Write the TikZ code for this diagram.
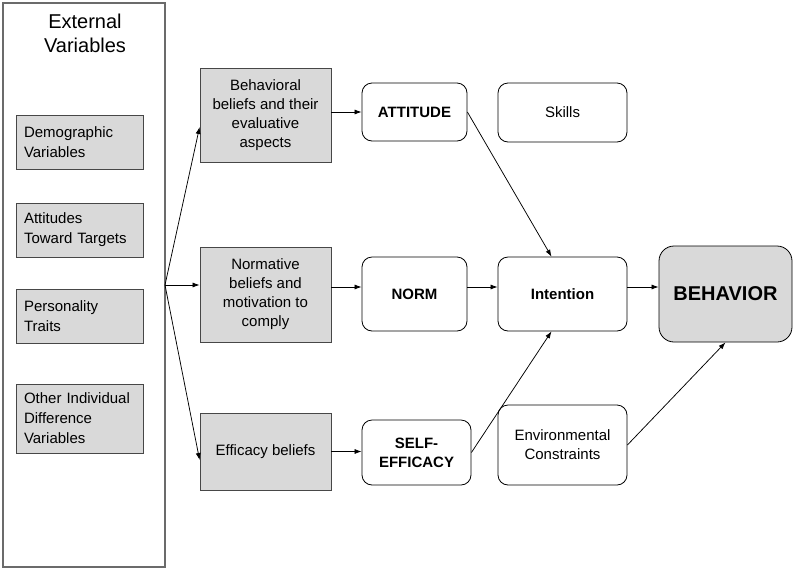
\documentclass[tikz,border=0pt]{standalone}
\usepackage{fontspec}
\setmainfont{Liberation Sans}
\usetikzlibrary{arrows.meta,calc}
\begin{document}
\begin{tikzpicture}[x=1pt,y=-1pt,
  base/.style={inner sep=0pt, font=\fontsize{15}{19}\selectfont, align=center},
  gbox/.style={base, draw=black!72, fill=black!15, line width=0.8pt},
  lbox/.style={gbox, align=left, inner xsep=8pt, text width=111pt, minimum width=127pt, font=\fontsize{15}{20}\selectfont},
  mbox/.style={gbox, minimum width=131pt},
  rbox/.style={base, draw=black, rounded corners=10pt, line width=0.8pt},
  arr/.style={-{Latex[length=7pt,width=5pt]}, line width=0.75pt, black}
]
\fill[white] (0,0) rectangle (795,571);
\useasboundingbox (0,0) rectangle (795,571);

% external variables panel
\node[draw=black!58, line width=1.5pt, minimum width=162pt, minimum height=564pt, inner sep=0pt] (ext) at (84,285) {};
\node[base, font=\fontsize{20}{24}\selectfont] (title) at (85,33) {External\\Variables};

\node[lbox, minimum height=54pt] (demo) at (79.5,142) {Demographic\\Variables};
\node[lbox, minimum height=54pt] (attt) at (79.5,230) {Attitudes\\Toward Targets};
\node[lbox, minimum height=54pt] (pers) at (79.5,316) {Personality\\Traits};
\node[lbox, minimum height=69pt] (other) at (79.5,418.5) {Other Individual\\Difference\\Variables};

% belief boxes
\node[mbox, minimum height=94pt] (bb) at (265.5,115) {Behavioral\\beliefs and their\\evaluative\\aspects};
\node[mbox, minimum height=95pt] (nb) at (265.5,294.5) {Normative\\beliefs and\\motivation to\\comply};
\node[mbox, minimum height=77pt] (eb) at (265.5,451.5) {Efficacy beliefs};

% construct boxes
\node[rbox, font=\fontsize{15}{19}\selectfont\bfseries, minimum width=105pt, minimum height=58pt] (att) at (414.5,112) {ATTITUDE};
\node[rbox, font=\fontsize{15}{19}\selectfont\bfseries, minimum width=105pt, minimum height=74pt] (norm) at (414.5,294) {NORM};
\node[rbox, font=\fontsize{15}{19}\selectfont\bfseries, minimum width=109pt, minimum height=65pt] (se) at (416.5,452.5) {SELF-\\EFFICACY};

\node[rbox, minimum width=129pt, minimum height=59pt] (skills) at (562.5,112.5) {Skills};
\node[rbox, font=\fontsize{15}{19}\selectfont\bfseries, minimum width=129pt, minimum height=74pt] (int) at (562.5,294) {Intention};
\node[rbox, minimum width=129pt, minimum height=80pt] (env) at (562.5,445) {Environmental\\Constraints};

\node[rbox, fill=black!15, rounded corners=15pt, font=\fontsize{20}{24}\selectfont\bfseries, minimum width=133pt, minimum height=96pt] (beh) at (725.5,294) {BEHAVIOR};

% fan
\coordinate (fan) at (165,285);
\draw[arr] (fan) -- ([yshift=-12pt]bb.west);
\draw[arr] (fan) -- ([yshift=9.5pt]nb.west);
\draw[arr] (fan) -- ([yshift=-8.5pt]eb.west);

% belief to construct
\draw[arr] ([yshift=3pt]bb.east) -- (att.west);
\draw[arr] ([yshift=7.5pt]nb.east) -- ([yshift=7pt]norm.west);
\draw[arr] (eb.east) -- (eb.east -| se.west);

% to intention
\draw[arr] (att.east) -- ([xshift=-11pt]int.north);
\draw[arr] ([yshift=7pt]norm.east) -- ([yshift=7pt]int.west);
\draw[arr] (se.east) -- ([xshift=-11pt]int.south);

% to behavior
\draw[arr] ([yshift=7pt]int.east) -- ([yshift=7pt]beh.west);
\draw[arr] (env.east) -- (beh.south);
\end{tikzpicture}
\end{document}
